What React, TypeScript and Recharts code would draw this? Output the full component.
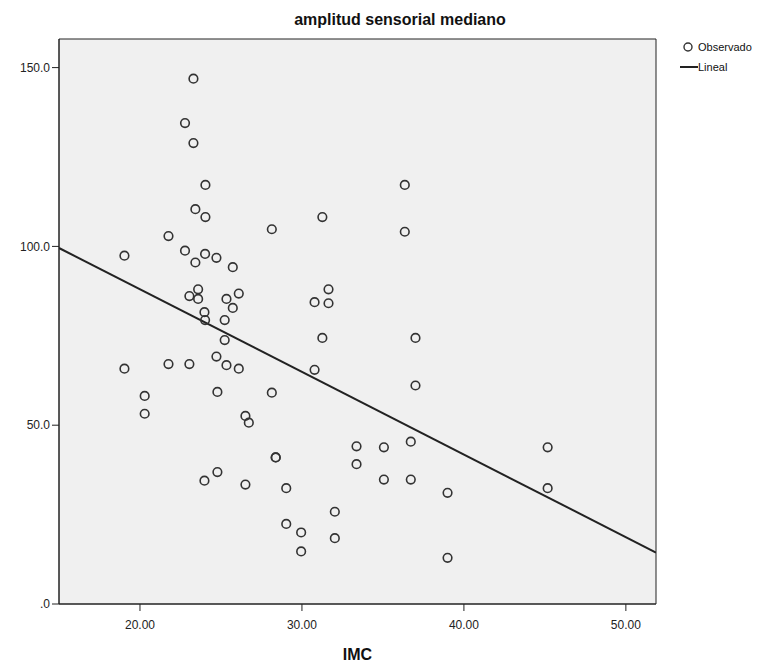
import {
  ComposedChart,
  Scatter,
  XAxis,
  YAxis,
  CartesianGrid,
  ReferenceArea,
  Label,
} from "recharts";

// IMC (x) and amplitud sensorial mediano (y)
const imc = [
  23.3, 22.78, 23.3, 24.04, 23.42, 24.04, 28.14, 21.76, 19.04, 22.78,
  24.02, 24.72, 23.42, 25.73, 23.59, 23.05, 23.59, 26.1, 25.34, 25.73,
  23.98, 24.02, 25.23, 25.23, 24.72, 21.76, 23.05, 25.34, 26.1, 19.04,
  20.29, 20.29, 24.78, 28.14, 26.51, 26.72, 28.38, 28.38, 24.78, 23.98,
  26.51, 29.03, 29.03, 29.95, 29.95, 32.03, 32.03, 31.26, 31.64, 30.78,
  31.64, 31.26, 30.78, 33.37, 33.37, 35.06, 35.06, 36.72, 36.72, 36.35,
  36.35, 37.01, 37.01, 38.99, 38.99, 45.17, 45.17,
];
const amplitud = [
  146.9, 134.5, 128.9, 117.2, 110.4, 108.2, 104.8, 102.9, 97.4, 98.8,
  97.9, 96.8, 95.5, 94.2, 88.0, 86.1, 85.3, 86.8, 85.3, 82.8,
  81.6, 79.4, 79.4, 73.8, 69.2, 67.1, 67.1, 66.8, 65.8, 65.8,
  58.2, 53.2, 59.3, 59.1, 52.6, 50.7, 41.0, 41.0, 36.9, 34.5,
  33.4, 32.4, 22.4, 20.0, 14.7, 25.8, 18.4, 108.2, 88.0, 84.4,
  84.1, 74.4, 65.5, 44.1, 39.1, 43.8, 34.8, 45.4, 34.8, 117.2,
  104.1, 74.4, 61.1, 31.1, 12.9, 43.8, 32.4,
];

// fitted line ends (Lineal)
const fitX = [15, 51.86];
const fitY = [99.55, 14.4];

const xTicks = [20, 30, 40, 50];
const yTicks = [0, 50, 100, 150];

const observed = imc.map((x, i) => ({ x, y: amplitud[i] }));
const fit = fitX.map((x, i) => ({ x, y: fitY[i] }));

const FONT = "'Liberation Sans', Arial, sans-serif";

function OpenDot(props: { cx?: number; cy?: number }) {
  const { cx = 0, cy = 0 } = props;
  return <circle cx={cx} cy={cy} r={4.3} fill="none" stroke="#333" strokeWidth={1.6} />;
}

export default function App() {
  return (
    <div style={{ position: "absolute", left: 0, top: 0, width: 778, height: 665, background: "#fff", fontFamily: FONT }}>
      <div
        style={{
          position: "absolute",
          left: 280,
          width: 240,
          top: 11,
          textAlign: "center",
          fontSize: 16,
          fontWeight: "bold",
          color: "#111",
          whiteSpace: "nowrap",
        }}
      >
        amplitud sensorial mediano
      </div>

      {/* Legend */}
      <div style={{ position: "absolute", left: 676, top: 38, fontSize: 11, color: "#111", lineHeight: "18px" }}>
        <div style={{ display: "flex", alignItems: "center" }}>
          <svg width={20} height={18}>
            <circle cx={12} cy={9} r={4} fill="none" stroke="#333" strokeWidth={1.4} />
          </svg>
          <span style={{ marginLeft: 2 }}>Observado</span>
        </div>
        <div style={{ display: "flex", alignItems: "center", marginTop: 2 }}>
          <svg width={22} height={18}>
            <line x1={4} y1={9} x2={22} y2={9} stroke="#222" strokeWidth={2} />
          </svg>
          <span>Lineal</span>
        </div>
      </div>

      <ComposedChart
        width={778}
        height={665}
        margin={{ top: 39, right: 122, bottom: 0, left: 0 }}
      >
        <CartesianGrid fill="#f0f0f0" horizontal={false} vertical={false} />
        <XAxis
          type="number"
          dataKey="x"
          domain={[15, 51.86]}
          ticks={xTicks}
          allowDataOverflow
          height={61}
          tickSize={7}
          tickMargin={9}
          tickFormatter={(v: number) => v.toFixed(2)}
          tick={{ fill: "#222", fontSize: 12, fontFamily: FONT }}
          axisLine={{ stroke: "#222" }}
          tickLine={{ stroke: "#222" }}
        >
          <Label
            value="IMC"
            position="insideBottom"
            offset={5}
            style={{ fontSize: 16, fontWeight: "bold", fill: "#111", fontFamily: FONT }}
          />
        </XAxis>
        <YAxis
          type="number"
          dataKey="y"
          domain={[0, 158]}
          ticks={yTicks}
          allowDataOverflow
          width={59}
          tickSize={7}
          tickFormatter={(v: number) => (v === 0 ? ".0" : v.toFixed(1))}
          tick={{ fill: "#222", fontSize: 12, fontFamily: FONT }}
          axisLine={{ stroke: "#222" }}
          tickLine={{ stroke: "#222" }}
        />
        <ReferenceArea x1={15} x2={51.86} y1={0} y2={158} fill="none" stroke="#222" strokeWidth={1} />
        <Scatter
          data={fit}
          line={{ stroke: "#222", strokeWidth: 2 }}
          shape={() => <g />}
          isAnimationActive={false}
        />
        <Scatter data={observed} shape={(p: { cx?: number; cy?: number }) => <OpenDot {...p} />} isAnimationActive={false} />
      </ComposedChart>
    </div>
  );
}
